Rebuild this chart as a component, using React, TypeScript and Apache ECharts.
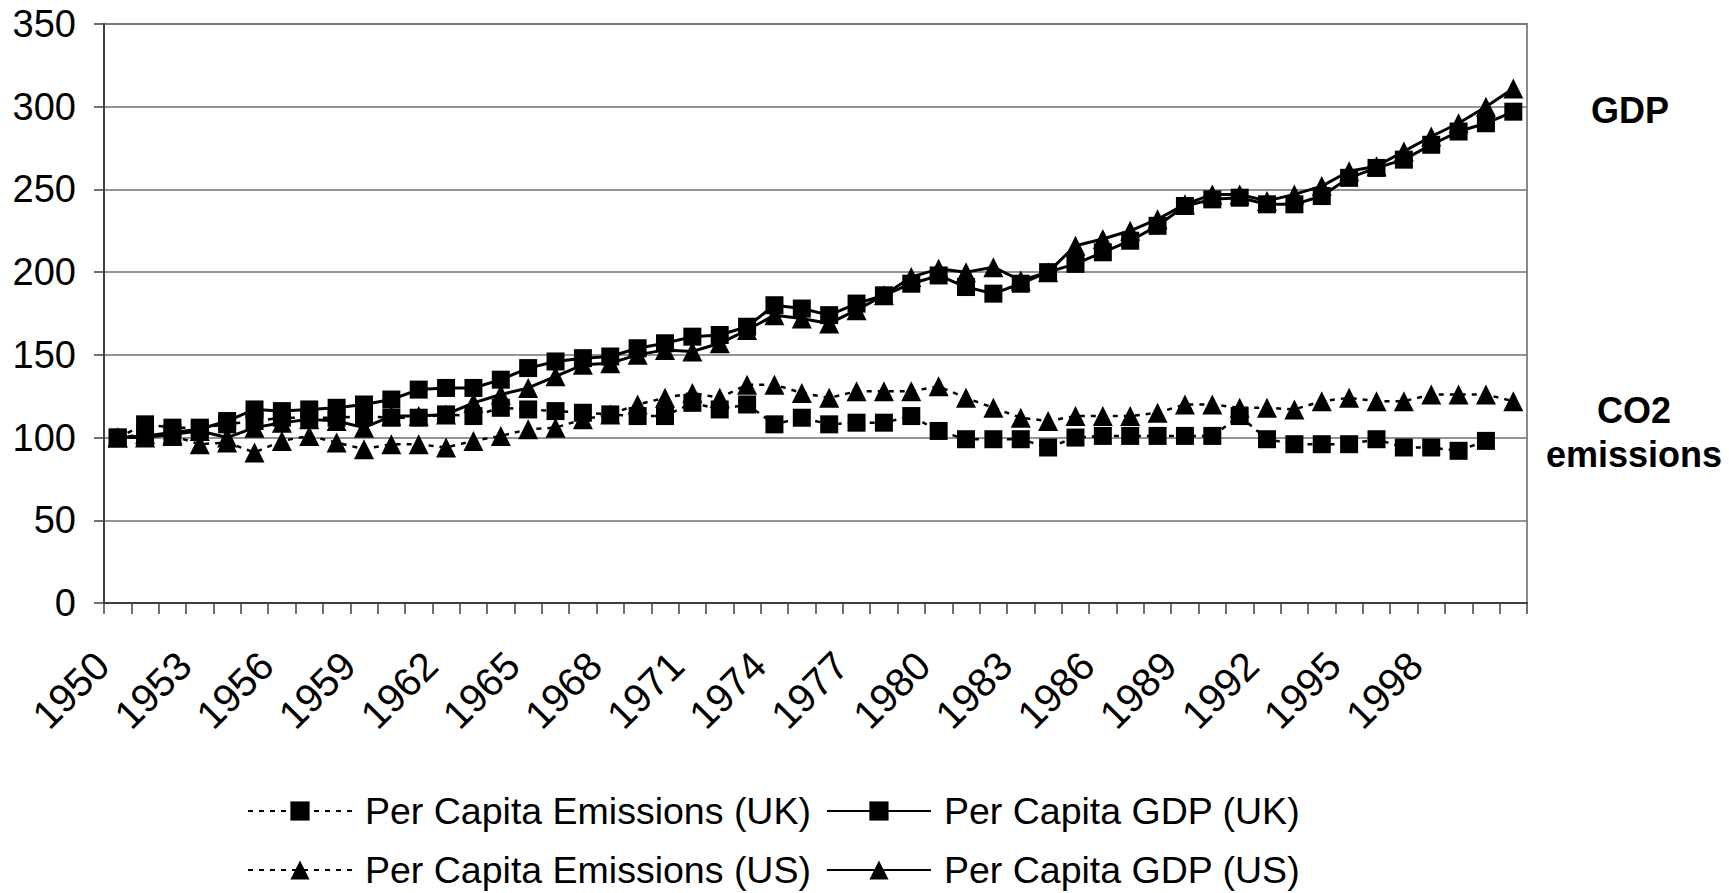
import React, { useEffect, useRef } from "react";
import * as echarts from "echarts";

const years = [
  "1950", "1951", "1952", "1953", "1954", "1955", "1956", "1957", "1958", "1959",
  "1960", "1961", "1962", "1963", "1964", "1965", "1966", "1967", "1968", "1969",
  "1970", "1971", "1972", "1973", "1974", "1975", "1976", "1977", "1978", "1979",
  "1980", "1981", "1982", "1983", "1984", "1985", "1986", "1987", "1988", "1989",
  "1990", "1991", "1992", "1993", "1994", "1995", "1996", "1997", "1998", "1999",
  "2000", "2001",
];

// Year labels shown under the axis (every third year, as in the source)
const labelledYears = [
  "1950", "1953", "1956", "1959", "1962", "1965", "1968", "1971", "1974",
  "1977", "1980", "1983", "1986", "1989", "1992", "1995", "1998",
];

const emissionsUK: (number | null)[] = [
  100, 108, 106, 106, 108, 110, 112, 112, 112, 113,
  112, 112, 114, 113, 118, 117, 116, 115, 114, 113,
  113, 121, 117, 120, 108, 112, 108, 109, 109, 113,
  104, 99, 99, 99, 94, 100, 101, 101, 101, 101,
  101, 113, 99, 96, 96, 96, 99, 94, 94, 92,
  98, null,
];

const gdpUK = [
  100, 101, 103, 105, 110, 117, 116, 117, 118, 120,
  123, 129, 130, 130, 135, 142, 146, 148, 149, 154,
  157, 161, 162, 167, 180, 178, 174, 181, 186, 193,
  198, 191, 187, 193, 200, 205, 212, 219, 228, 240,
  244, 245, 241, 241, 246, 257, 263, 268, 277, 285,
  290, 297,
];

const emissionsUS = [
  100, 102, 101, 96, 97, 91, 98, 101, 97, 93,
  96, 96, 94, 98, 101, 105, 106, 111, 114, 120,
  124, 127, 124, 132, 132, 127, 124, 128, 128, 128,
  131, 124, 118, 112, 110, 113, 113, 113, 115, 120,
  120, 118, 118, 117, 122, 124, 122, 122, 126, 126,
  126, 122,
];

const gdpUS = [
  100, 100, 102, 104, 100, 106, 109, 111, 110, 106,
  113, 113, 114, 121, 126, 130, 137, 144, 145, 150,
  153, 152, 157, 165, 174, 172, 169, 177, 186, 197,
  202, 200, 203, 195, 200, 216, 220, 225, 232, 241,
  247, 247, 243, 247, 252, 261, 264, 273, 282, 290,
  300, 311,
];

const seriesNames = [
  "Per Capita Emissions (UK)",
  "Per Capita GDP (UK)",
  "Per Capita Emissions (US)",
  "Per Capita GDP (US)",
];

const FONT = '"Liberation Sans", Arial, sans-serif';

export default function App() {
  const ref = useRef<HTMLDivElement>(null);

  useEffect(() => {
    document.body.style.margin = "0";
    if (!ref.current) return;
    const chart = echarts.init(ref.current, undefined, { renderer: "svg" });
    const dashed = [5, 6];
    const legendBase = {
      left: 247,
      itemWidth: 104,
      itemHeight: 24,
      itemGap: 15,
      padding: 0,
      textStyle: {
        fontSize: 37.5,
        lineHeight: 42,
        fontFamily: FONT,
        color: "#000",
        padding: [0, 0, 0, 8],
      },
    };
    const option: any = {
      animation: false,
      textStyle: { fontFamily: FONT, color: "#000" },
      grid: {
        left: 104,
        right: 202,
        top: 24,
        bottom: 290,
        show: true,
        borderColor: "#8a8a8a",
        borderWidth: 2,
        backgroundColor: "transparent",
      },
      xAxis: {
        type: "category",
        data: years,
        boundaryGap: true,
        axisLine: { show: true, lineStyle: { color: "#404040", width: 2 } },
        axisTick: {
          show: true,
          interval: 0,
          length: 11,
          lineStyle: { color: "#404040", width: 1.5 },
        },
        axisLabel: {
          interval: (_i: number, v: string) => labelledYears.indexOf(v) >= 0,
          rotate: 45,
          margin: 40,
          padding: [0, 22, 0, 0],
          fontSize: 40,
          fontFamily: FONT,
          color: "#000",
        },
        splitLine: { show: false },
      },
      yAxis: {
        type: "value",
        min: 0,
        max: 350,
        interval: 50,
        axisLine: { show: true, lineStyle: { color: "#404040", width: 2 } },
        axisTick: { show: true, length: 10, lineStyle: { color: "#404040", width: 1.5 } },
        axisLabel: { margin: 28, fontSize: 38, fontFamily: FONT, color: "#000" },
        splitLine: { show: true, lineStyle: { color: "#707070", width: 1.5 } },
      },
      legend: [
        { ...legendBase, data: [seriesNames[0], seriesNames[1]], top: 790 },
        { ...legendBase, data: [seriesNames[2], seriesNames[3]], top: 849 },
      ],
      graphic: [
        {
          type: "text",
          x: 1630,
          y: 110,
          style: {
            text: "GDP",
            fontSize: 36,
            fontWeight: "bold",
            fontFamily: FONT,
            fill: "#000",
            align: "center",
            verticalAlign: "middle",
          },
        },
        {
          type: "text",
          x: 1634,
          y: 432,
          style: {
            text: "CO2\nemissions",
            fontSize: 36,
            fontWeight: "bold",
            fontFamily: FONT,
            fill: "#000",
            align: "center",
            verticalAlign: "middle",
            lineHeight: 44,
          },
        },
      ],
      series: [
        {
          name: seriesNames[0],
          type: "line",
          data: emissionsUK,
          symbol: "rect",
          symbolSize: 18,
          showAllSymbol: true,
          connectNulls: false,
          lineStyle: { color: "#000", width: 2.5, type: dashed },
          itemStyle: { color: "#000" },
          z: 3,
        },
        {
          name: seriesNames[1],
          type: "line",
          data: gdpUK,
          symbol: "rect",
          symbolSize: 18,
          showAllSymbol: true,
          lineStyle: { color: "#000", width: 3 },
          itemStyle: { color: "#000" },
          z: 4,
        },
        {
          name: seriesNames[2],
          type: "line",
          data: emissionsUS,
          symbol: "triangle",
          symbolSize: 20,
          showAllSymbol: true,
          lineStyle: { color: "#000", width: 2.5, type: dashed },
          itemStyle: { color: "#000" },
          z: 3,
        },
        {
          name: seriesNames[3],
          type: "line",
          data: gdpUS,
          symbol: "triangle",
          symbolSize: 20,
          showAllSymbol: true,
          lineStyle: { color: "#000", width: 3 },
          itemStyle: { color: "#000" },
          z: 4,
        },
      ],
    };
    chart.setOption(option);
    return () => chart.dispose();
  }, []);

  return <div ref={ref} style={{ width: 1729, height: 893 }} />;
}
